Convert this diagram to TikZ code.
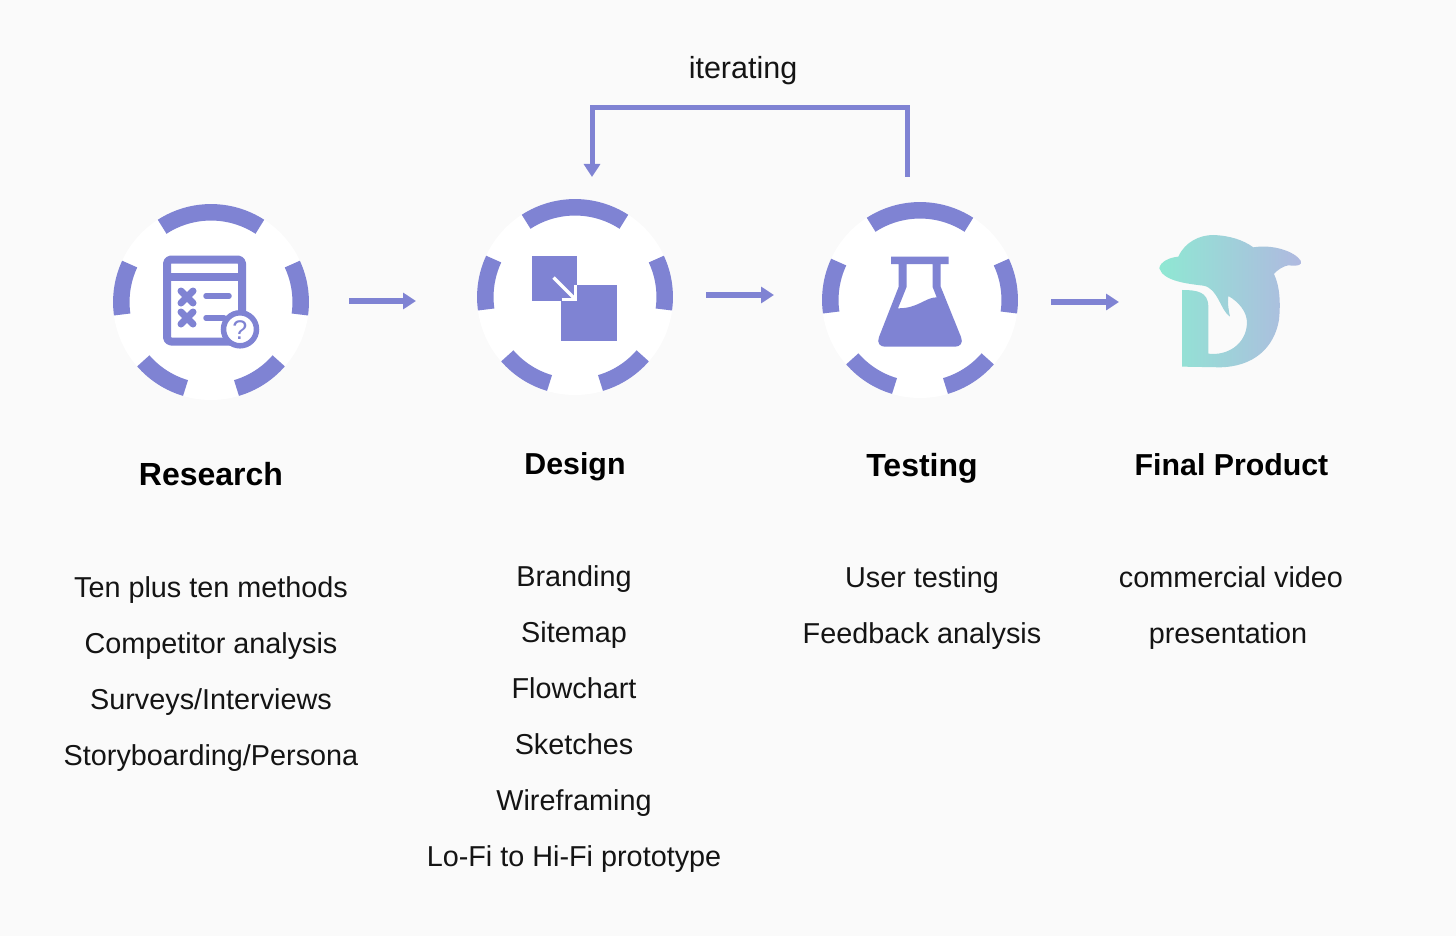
\documentclass[tikz,border=0pt]{standalone}
\usepackage{fontspec}
\setmainfont{Liberation Sans}
\usetikzlibrary{arrows.meta}
\definecolor{bgc}{HTML}{FAFAFA}
\definecolor{acc}{HTML}{7F83D3}
\definecolor{mint}{HTML}{8FE8D3}
\definecolor{lav}{HTML}{B0B8E0}
\newcommand{\dashring}[1]{%
  \foreach \sa/\ea in {-57/-123, 8/-25, -155/-188, 41/73.5, 139/106.5}{
    \draw[ringarc] (#1) ++(\sa:89.7) arc (\sa:\ea:89.7);
  }}
\tikzset{
  disc/.style={circle,fill=white,minimum size=196pt,inner sep=0pt},
  ringarc/.style={acc,line width=16.5pt,line cap=butt},
  flow/.style={acc,line width=5.5pt,-{Triangle[length=13pt,width=16pt]}},
  loopline/.style={acc,line width=5pt,line join=miter},
  title/.style={anchor=base,font=\fontsize{30.3}{36}\selectfont\bfseries,text=black},
  titlewide/.style={anchor=base,font=\fontsize{32}{38}\selectfont\bfseries,text=black},
  item/.style={anchor=base,font=\fontsize{28.8}{34}\selectfont,text=black!92},
  iconline/.style={acc,line width=8pt,line join=round},
  cross/.style={acc,line width=7pt,line cap=round},
}
\begin{document}
\begin{tikzpicture}[x=1pt,y=-1pt]
\useasboundingbox (0,0) rectangle (1456,936);
\fill[bgc] (0,0) rectangle (1456,936);

% discs
\node[disc] (research) at (211,302) {};
\node[disc] (design) at (575,297) {};
\node[disc] (testing) at (920,300) {};
\dashring{research}
\dashring{design}
\dashring{testing}

% research icon
\draw[iconline,rounded corners=4pt] (167,259.5) rectangle (242,341.5);
\draw[iconline] (167,277) -- (242,277);
\foreach \cy in {297,318}{
  \draw[cross] (181,\cy-6) -- (193,\cy+6);
  \draw[cross] (193,\cy-6) -- (181,\cy+6);
}
\draw[cross,line width=5.5pt] (206,296) -- (229,296);
\draw[cross,line width=5.5pt] (206,318) -- (224,318);
\draw[acc,line width=5.5pt,fill=white] (240,329.3) circle (16.5);
\node[anchor=base,text=acc,font=\fontsize{27}{27}\selectfont,inner sep=0pt] (qmark) at (240,339) {?};

% design icon
\fill[acc] (532,256) rectangle (576.7,300.7);
\fill[acc] (561.3,285.3) rectangle (617,340.7);
\draw[white,line width=3.5pt] (553.5,277.5) -- (575,299);
\draw[white,line width=3.5pt] (561.5,299.3) -- (575.5,299.3) -- (575.5,285);

% flask icon
\fill[acc,even odd rule] (891,256.7) -- (948.7,256.7) -- (948.7,264) -- (940.7,264) -- (940.7,286.7)
  -- (961,337) .. controls (963.5,343) and (960,346.7) .. (955,346.7)
  -- (885,346.7) .. controls (880,346.7) and (876.5,343) .. (879,337)
  -- (898.7,286.7) -- (898.7,264) -- (891,264) -- cycle
  (906.7,264) -- (932.5,264) -- (932.5,286.7) -- (936.7,297.3)
  .. controls (925,297.5) and (918,308.5) .. (898,308.3)
  -- (906.7,286.7) -- cycle;

% dolphin
\begin{scope}[shift={(1040,220)},x=0.3333pt,y=-0.3333pt]
\path[left color=mint,right color=lav]
  (358,145) .. controls (360,125) and (390,112) .. (415,110)
  .. controls (435,65) and (480,45) .. (520,45)
  .. controls (570,47) and (610,60) .. (640,82)
  .. controls (700,72) and (765,95) .. (782,122)
  .. controls (788,135) and (775,139) .. (745,136)
  .. controls (730,138) and (712,150) .. (702,162)
  .. controls (720,200) and (722,250) .. (717,300)
  .. controls (702,385) and (640,440) .. (540,442)
  -- (426,440) -- (426,210)
  .. controls (470,210) and (505,215) .. (505,260)
  -- (505,401)
  .. controls (560,408) and (618,375) .. (621,310)
  .. controls (622,275) and (595,245) .. (565,228)
  .. controls (562,250) and (566,270) .. (570,290)
  .. controls (540,270) and (535,205) .. (490,197)
  .. controls (450,192) and (370,185) .. (358,145)
  -- cycle;
\end{scope}

% flow arrows
\coordinate (a1s) at (349,301); \coordinate (a1e) at (416,301);
\coordinate (a2s) at (706,295); \coordinate (a2e) at (774,295);
\coordinate (a3s) at (1051,302); \coordinate (a3e) at (1119,302);
\draw[flow] (a1s) -- (a1e);
\draw[flow] (a2s) -- (a2e);
\draw[flow] (a3s) -- (a3e);

% iterating loop
\coordinate (ls) at (907,177);
\coordinate (lc1) at (907,107.5);
\coordinate (lc2) at (592,107.5);
\coordinate (le) at (592,177);
\draw[loopline,-{Triangle[length=13pt,width=16pt]}] (ls) -- (lc1) -- (lc2) -- (le);
\node[item,font=\fontsize{30.5}{36}\selectfont] (iter) at (743,78.5) {iterating};

% titles
\node[titlewide] (t1) at (211,485.5) {Research};
\node[title] (t2) at (575,474) {Design};
\node[titlewide] (t3) at (922,476) {Testing};
\node[title] (t4) at (1231.5,475) {Final Product};

% lists
\node[item] (r1) at (211,597) {Ten plus ten methods};
\node[item] (r2) at (211,653) {Competitor analysis};
\node[item] (r3) at (211,709) {Surveys/Interviews};
\node[item] (r4) at (211,765) {Storyboarding/Persona};
\node[item] (d1) at (574,586) {Branding};
\node[item] (d2) at (574,642) {Sitemap};
\node[item] (d3) at (574,698) {Flowchart};
\node[item] (d4) at (574,754) {Sketches};
\node[item] (d5) at (574,810) {Wireframing};
\node[item] (d6) at (574,866) {Lo-Fi to Hi-Fi prototype};
\node[item] (u1) at (922,587.5) {User testing};
\node[item] (u2) at (922,643.5) {Feedback analysis};
\node[item] (f1) at (1231,587.5) {commercial video};
\node[item] (f2) at (1228,643.5) {presentation};
\end{tikzpicture}
\end{document}
